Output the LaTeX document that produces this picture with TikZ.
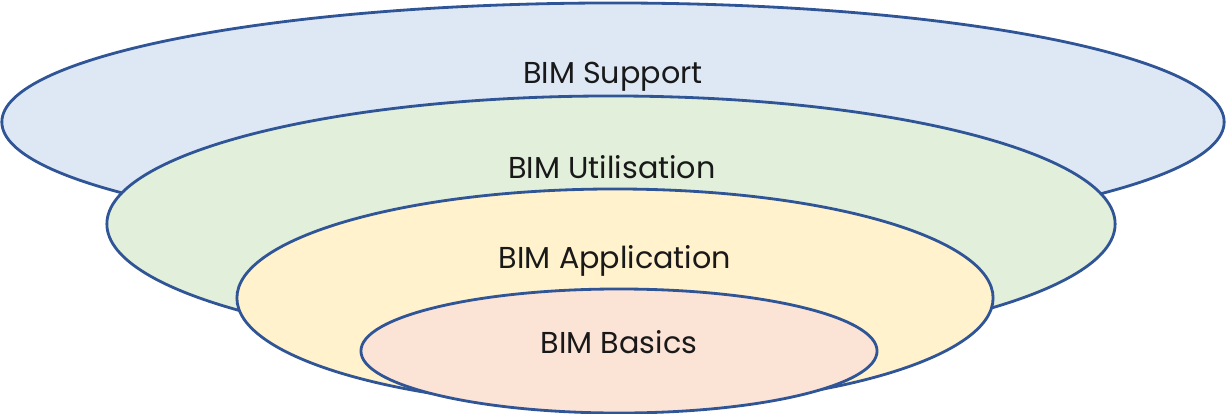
\documentclass[tikz,border=0pt]{standalone}
\usepackage{fontspec}
\setmainfont{Poppins}
\usetikzlibrary{shapes.geometric,positioning}
\definecolor{rimblue}{HTML}{2F5597}
\definecolor{supportfill}{HTML}{DEE8F5}
\definecolor{utilfill}{HTML}{E2EFDA}
\definecolor{applfill}{HTML}{FFF2CC}
\definecolor{basicfill}{HTML}{FBE3D6}
\begin{document}
\begin{tikzpicture}[x=0.025cm,y=-0.025cm,
            RING/.style={ellipse, draw=rimblue, line width=2pt, inner sep=0pt},
            LEVEL/.style={anchor=base, font=\fontsize{21.5}{25}\selectfont, text=black!90},
        ]
        \useasboundingbox (0,0) rectangle (1226,414);

        \node[RING, fill=supportfill, minimum width=30.55cm, minimum height=5.95cm] (Support) at (613,122) {};
        \node[RING, fill=utilfill,    minimum width=25.2cm,  minimum height=6.4cm]  (Utilisation) at (611,224) {};
        \node[RING, fill=applfill,    minimum width=18.9cm,  minimum height=5.45cm] (Application) at (615,298) {};
        \node[RING, fill=basicfill,   minimum width=12.9cm,  minimum height=3.1cm]  (Basics) at (619,351) {};

        \node[LEVEL] (Support_Text)     at (613,83)  {BIM Support};
        \node[LEVEL] (Utilisation_Text) at (612,178) {BIM Utilisation};
        \node[LEVEL] (Application_Text) at (615,268) {BIM Application};
        \node[LEVEL] (Basics_Text)      at (619,353) {BIM Basics};

    \end{tikzpicture}
\end{document}
